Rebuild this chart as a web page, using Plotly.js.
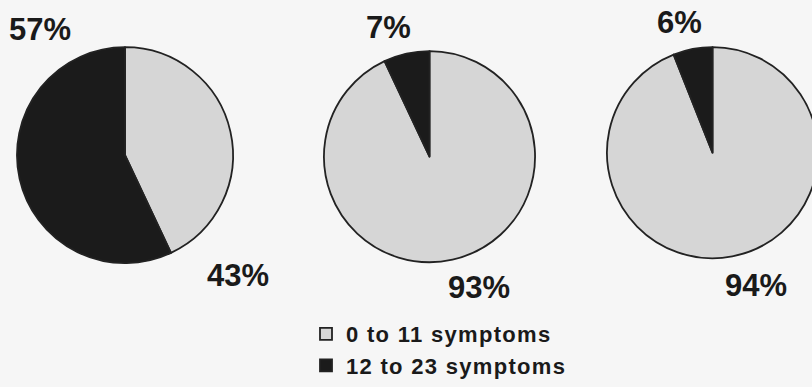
<!DOCTYPE html>
<html>
<head>
<meta charset="utf-8">
<script src="https://cdn.plot.ly/plotly-3.0.1.min.js"></script>
<style>
  html, body { margin: 0; padding: 0; background: #f6f6f6; overflow: hidden; }
  #chart { width: 830px; height: 387px; }
  .legend .legendtext { letter-spacing: 1.3px; }
  .legend .scrollbox, .legend [clip-path] { clip-path: none !important; }
</style>
</head>
<body>
<div id="chart"></div>
<script>
// Symptom-count groups (legend entries)
const categories = ['0 to 11 symptoms', '12 to 23 symptoms'];

// Percentage of respondents in each group, one list per pie
const pieA = [43, 57];
const pieB = [93, 7];
const pieC = [94, 6];

const sliceColors = ['#d6d6d6', '#1b1b1b'];

const W = 830, H = 387;

// pixel boxes for each pie (left, top, size)
const boxes = [
  { left: 15,  top: 48, size: 220 },
  { left: 322, top: 52, size: 215 },
  { left: 605, top: 48, size: 215 }
];

// where the two percentage labels of each pie sit (pixels)
const labelPos = [
  [{ x: 238, y: 281 }, { x: 40, y: 30 }],
  [{ x: 479, y: 293 }, { x: 388, y: 28 }],
  [{ x: 756, y: 291 }, { x: 679, y: 23 }]
];

const series = [pieA, pieB, pieC];

const traces = series.map((vals, i) => {
  const b = boxes[i];
  return {
    type: 'pie',
    labels: categories,
    values: vals,
    sort: false,
    direction: 'clockwise',
    rotation: 0,
    textinfo: 'none',
    hoverinfo: 'label+percent',
    showlegend: i === 0,
    marker: { colors: sliceColors, line: { color: '#222222', width: 1.8 } },
    domain: {
      x: [b.left / W, (b.left + b.size) / W],
      y: [(H - b.top - b.size) / H, (H - b.top) / H]
    }
  };
});

const annotations = [];
series.forEach((vals, i) => {
  vals.forEach((v, j) => {
    const p = labelPos[i][j];
    annotations.push({
      xref: 'paper', yref: 'paper',
      x: p.x / W, y: 1 - p.y / H,
      xanchor: 'center', yanchor: 'middle',
      showarrow: false,
      text: v + '%',
      font: { family: 'Liberation Sans, Arial, sans-serif', size: 31, color: '#1a1a1a', weight: 'bold' }
    });
  });
});

const layout = {
  width: W, height: H,
  margin: { l: 0, r: 0, t: 0, b: 0 },
  paper_bgcolor: '#f6f6f6',
  plot_bgcolor: '#f6f6f6',
  showlegend: true,
  legend: {
    x: 306 / W, xanchor: 'left',
    y: 1 - 319 / H, yanchor: 'top',
    bgcolor: 'rgba(0,0,0,0)',
    tracegroupgap: 0,
    itemwidth: 30,
    font: { family: 'Liberation Sans, Arial, sans-serif', size: 22, color: '#1a1a1a', weight: 'bold' }
  },
  annotations: annotations
};

Plotly.newPlot('chart', traces, layout, { displayModeBar: false, staticPlot: true });
</script>
</body>
</html>
